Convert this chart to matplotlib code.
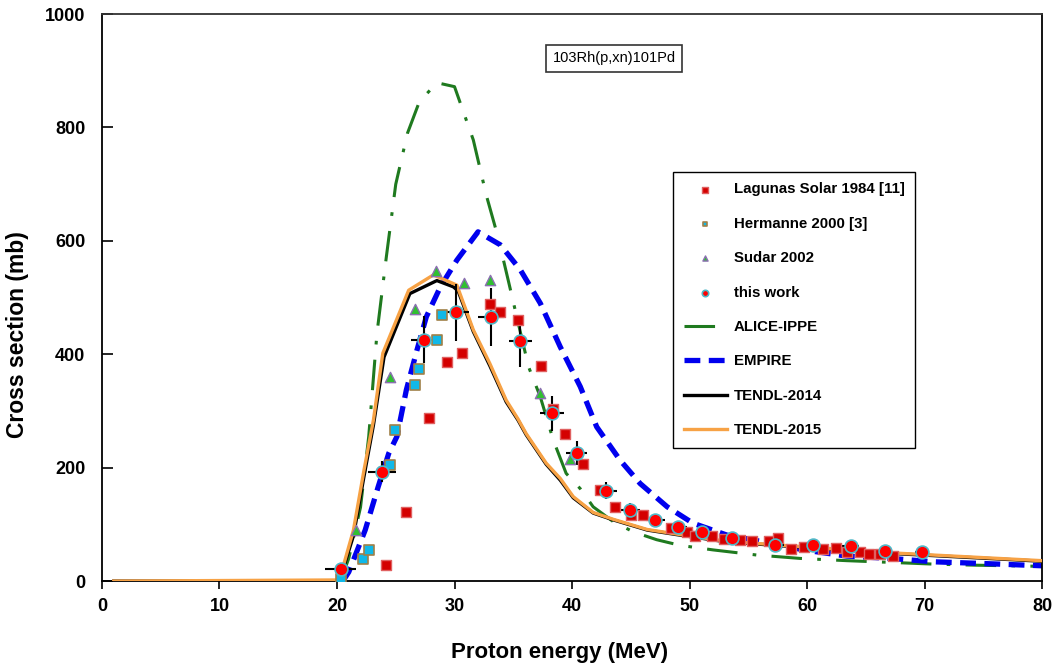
import matplotlib
matplotlib.use('Agg')
import matplotlib.pyplot as plt
import numpy as np

plt.rcParams['font.family'] = ['Liberation Sans', 'DejaVu Sans']

# Lagunas Solar 1984 [11]
lag_e = [24.2, 25.9, 27.8, 29.4, 30.6, 33.0, 33.9, 35.4, 37.4, 38.4, 39.4, 40.9, 42.4,
         43.7, 45.0, 46.0, 48.4, 49.8, 50.5, 51.9, 52.9, 54.3, 55.3, 56.8, 57.5, 58.6,
         59.7, 61.4, 62.5, 63.4, 64.5, 65.3, 66.2, 67.3]
lag_s = [29, 122, 288, 386, 402, 488, 474, 461, 379, 303, 260, 206, 160,
         130, 116, 116, 94, 86, 80, 80, 75, 72, 70, 70, 76, 57,
         60, 57, 58, 52, 51, 48, 47, 45]

# Hermanne 2000 [3]
her_e = [20.3, 22.2, 22.7, 24.5, 24.9, 26.6, 27.0, 28.5, 28.9]
her_s = [3, 39, 55, 205, 267, 345, 374, 425, 469]

# Sudar 2002
sud_e = [21.6, 24.5, 26.6, 28.4, 30.8, 33.0, 37.3, 39.8]
sud_s = [90, 360, 479, 547, 526, 531, 331, 216]

# this work
tw_e = [20.3, 23.8, 27.4, 30.1, 33.1, 35.6, 38.3, 40.4, 42.9, 44.9, 47.1, 49.0,
        51.1, 53.6, 57.3, 60.5, 63.7, 66.6, 69.8]
tw_s = [21, 193, 426, 474, 466, 423, 296, 226, 159, 126, 108, 96,
        86, 76, 63, 63, 61, 53, 51]
tw_de = [1.3, 1.2, 1.1, 1.1, 1.1, 1.0, 1.0, 0.9, 0.9, 0.85, 0.8, 0.8,
         0.8, 0.75, 0.7, 0.7, 0.7, 0.65, 0.6]
tw_ds = [4, 18, 41, 50, 51, 46, 31, 21, 15, 12, 10, 9,
         8, 7, 6, 6, 6, 5, 5]

# ALICE-IPPE
alice_e = [20.3, 21.0, 22.0, 22.7, 23.4, 24.2, 25.0, 26.0, 27.0, 28.5, 30.0,
           31.6, 32.7, 33.7, 34.6, 35.4, 36.3, 37.3, 38.4, 39.5, 40.7, 41.8,
           43.5, 45.2, 47.2, 49.2, 52.0, 55.7, 59.4, 63.4, 67.1, 70.7, 74.4, 80.0]
alice_s = [0, 40, 130, 255, 437, 572, 700, 790, 845, 879, 872,
           778, 681, 607, 528, 457, 378, 325, 249, 190, 163, 131,
           105, 87, 73, 63, 55, 46, 40, 36, 33, 30, 28, 26]

# EMPIRE
emp_e = [20.5, 21.0, 22.4, 23.5, 24.4, 25.1, 25.9, 26.8, 27.6, 28.8, 30.2,
         32.0, 33.9, 35.6, 37.3, 39.0, 40.7, 42.1, 44.1, 45.8, 48.1, 50.3,
         53.2, 56.6, 59.7, 63.4, 67.1, 70.8, 75.0, 80.0]
emp_s = [0, 16, 90, 166, 225, 255, 337, 407, 466, 519, 566,
         616, 593, 549, 490, 413, 343, 272, 213, 172, 131, 102,
         81, 68, 55, 44, 40, 34, 31, 27]

# TENDL-2014
t14_e = [1, 20.2, 21.4, 22.3, 23.1, 24.0, 26.2, 28.5, 29.9, 30.3, 31.6, 33.0,
         34.4, 35.4, 36.1, 37.8, 39.0, 40.1, 41.8, 43.5, 46.4, 49.2, 53.2,
         59.4, 67.9, 80.0]
t14_s = [0, 0, 80, 185, 275, 395, 507, 530, 519, 512, 440, 380,
         316, 284, 258, 206, 178, 147, 120, 108, 90, 81, 69,
         60, 48, 35]

# TENDL-2015
t15_e = [1, 20.2, 21.4, 22.3, 23.1, 23.9, 26.1, 28.2, 30.2, 31.6, 33.0,
         34.4, 35.4, 36.1, 37.8, 39.0, 40.1, 41.8, 43.5, 46.4, 49.2, 53.2,
         59.4, 67.9, 80.0]
t15_s = [0, 2, 90, 196, 284, 402, 513, 540, 522, 443, 384,
         319, 286, 260, 208, 181, 149, 121, 109, 91, 82, 70,
         61, 49, 36]

fig = plt.figure(figsize=(10.59, 6.71), dpi=100)
ax = fig.add_axes([0.0963, 0.134, 0.8877, 0.845])

ax.plot(alice_e, alice_s, color='#1f7a1f', lw=2.2, dashes=(10, 5, 1.2, 5),
        label='ALICE-IPPE', zorder=2)
ax.plot(emp_e, emp_s, color='#0000ee', lw=3.8, dashes=(3, 1.6),
        label='EMPIRE', zorder=2)
ax.plot(t14_e, t14_s, color='black', lw=2.4, label='TENDL-2014', zorder=3)
ax.plot(t15_e, t15_s, color='#f7a245', lw=2.4, label='TENDL-2015', zorder=3)

ax.errorbar(tw_e, tw_s, xerr=tw_de, yerr=tw_ds, fmt='none', ecolor='black',
            elinewidth=1.5, capsize=0, zorder=4)
ax.scatter(lag_e, lag_s, marker='s', s=55, c='#d40000', edgecolors='#e06060',
           linewidths=1.0, label='Lagunas Solar 1984 [11]', zorder=5)
ax.scatter(her_e, her_s, marker='s', s=50, c='#10b8e8', edgecolors='#a08048',
           linewidths=1.2, label='Hermanne 2000 [3]', zorder=5)
ax.scatter(sud_e, sud_s, marker='^', s=55, c='#30c030', edgecolors='#8a70b0',
           linewidths=1.0, label='Sudar 2002', zorder=5)
ax.scatter(tw_e, tw_s, marker='o', s=85, c='#ff0000', edgecolors='#50b8c8',
           linewidths=1.2, label='this work', zorder=6)

ax.set_xlim(0, 80)
ax.set_ylim(0, 1000)
ax.set_xticks(np.arange(0, 81, 10))
ax.set_yticks(np.arange(0, 1001, 200))
ax.tick_params(axis='x', direction='out', length=6, width=1.2, labelsize=13, pad=6)
ax.tick_params(axis='y', direction='in', length=8, width=1.2, labelsize=13, pad=12)
for lab in ax.get_xticklabels() + ax.get_yticklabels():
    lab.set_fontweight('bold')
for sp in ax.spines.values():
    sp.set_linewidth(1.3)
ax.spines['top'].set_color('#333333')

ax.set_xlabel('Proton energy (MeV)', fontsize=16, fontweight='bold')
ax.set_ylabel('Cross section (mb)', fontsize=16.5, fontweight='bold')
ax.xaxis.set_label_coords(0.487, -0.108)
ax.yaxis.set_label_coords(-0.078, 0.435)

ax.text(0.545, 0.922, '103Rh(p,xn)101Pd', transform=ax.transAxes, ha='center',
        va='center', fontsize=10.5,
        bbox=dict(boxstyle='square,pad=0.45', fc='white', ec='#333333', lw=1.2))

handles, labels = ax.get_legend_handles_labels()
order = [4, 5, 6, 7, 0, 1, 2, 3]
leg = ax.legend([handles[i] for i in order], [labels[i] for i in order],
                loc='upper left', bbox_to_anchor=(0.6075, 0.7216), frameon=True,
                fancybox=False, edgecolor='black', framealpha=1,
                prop={'weight': 'bold', 'size': 10.8}, markerscale=0.5,
                handlelength=2.9, handletextpad=0.45, labelspacing=1.36,
                borderpad=0.7, borderaxespad=0)
leg.get_frame().set_linewidth(1.0)

fig.savefig('out.png', dpi=100)
